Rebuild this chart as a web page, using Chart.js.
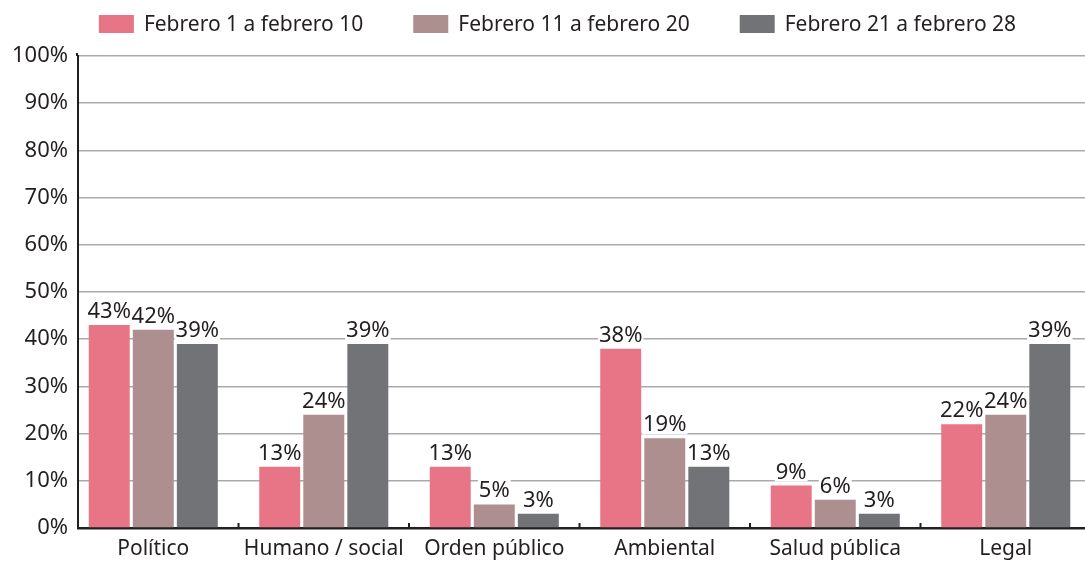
<!DOCTYPE html>
<html>
<head>
<meta charset="utf-8">
<script src="https://cdn.jsdelivr.net/npm/chart.js@4"></script>
<style>
  html, body { margin: 0; padding: 0; background: #fff; }
  #wrap { width: 1085px; height: 564px; }
</style>
</head>
<body>
<div id="wrap"><canvas id="riskChart"></canvas></div>
<script>
// categories and series
const categories = ['Político', 'Humano / social', 'Orden público', 'Ambiental', 'Salud pública', 'Legal'];
const seriesNames = ['Febrero 1 a febrero 10', 'Febrero 11 a febrero 20', 'Febrero 21 a febrero 28'];
const period1 = [43, 13, 13, 38, 9, 22];
const period2 = [42, 24, 5, 19, 6, 24];
const period3 = [39, 39, 3, 13, 3, 39];
const yTicks = [0, 10, 20, 30, 40, 50, 60, 70, 80, 90, 100];

const colors = ['#e87585', '#ad8f8f', '#727376'];
const fontFamily = '"Noto Sans", "Open Sans", sans-serif';
const textColor = '#231f20';

// in the original the category bands run a little past the y axis on the left
// and past the canvas edge on the right
const bandOverhangLeft = 10;
const bandOverhangRight = 6;

const stretchBands = {
    id: 'stretchBands',
    afterLayout(chart) {
        const x = chart.scales.x;
        x._startPixel = x.left - bandOverhangLeft;
        x._endPixel = x.right + bandOverhangRight;
        x._length = x._endPixel - x._startPixel;
    }
};

// value labels with a white box behind them (hides the gridlines)
const valueLabels = {
    id: 'valueLabels',
    afterDatasetsDraw(chart) {
        const ctx = chart.ctx;
        ctx.save();
        ctx.font = '22px ' + fontFamily;
        ctx.textAlign = 'center';
        ctx.textBaseline = 'alphabetic';
        chart.data.datasets.forEach((ds, i) => {
            chart.getDatasetMeta(i).data.forEach((bar, j) => {
                const txt = ds.data[j] + '%';
                const w = ctx.measureText(txt).width;
                const base = bar.y - 7;
                ctx.fillStyle = '#fff';
                ctx.fillRect(bar.x - w / 2 - 1, base - 18, w + 2, 21);
                ctx.fillStyle = textColor;
                ctx.fillText(txt, bar.x, base);
            });
        });
        ctx.restore();
    }
};

// short tick marks between categories pointing up, and the y axis poking above 100%
const axisMarks = {
    id: 'axisMarks',
    afterDraw(chart) {
        const x = chart.scales.x;
        const y = chart.scales.y;
        const ctx = chart.ctx;
        ctx.save();
        ctx.strokeStyle = textColor;
        ctx.lineWidth = 2;
        for (let i = 1; i < categories.length; i++) {
            const px = (x.getPixelForValue(i - 1) + x.getPixelForValue(i)) / 2;
            ctx.beginPath();
            ctx.moveTo(px, x.top);
            ctx.lineTo(px, x.top - 5);
            ctx.stroke();
        }
        ctx.beginPath();
        ctx.moveTo(y.right - 1, y.top);
        ctx.lineTo(y.right - 1, y.top - 3);
        ctx.stroke();
        ctx.restore();
    }
};

// legend drawn by hand so the spacing can match the original
const topLegend = {
    id: 'topLegend',
    afterDraw(chart) {
        const ctx = chart.ctx;
        ctx.save();
        ctx.font = '21px ' + fontFamily;
        ctx.textBaseline = 'middle';
        const boxW = 35, boxH = 18, gap = 10, itemGap = 50;
        const items = chart.data.datasets.map(ds => ({
            text: ds.label, color: ds.backgroundColor, w: ctx.measureText(ds.label).width
        }));
        const total = items.reduce((s, it) => s + boxW + gap + it.w, 0) + itemGap * (items.length - 1);
        let x = chart.width / 2 + 15 - total / 2;
        const y = 24;
        items.forEach(it => {
            ctx.fillStyle = it.color;
            ctx.fillRect(x, y - boxH / 2, boxW, boxH);
            ctx.fillStyle = textColor;
            ctx.fillText(it.text, x + boxW + gap, y + 1);
            x += boxW + gap + it.w + itemGap;
        });
        ctx.restore();
    }
};

const ctx = document.getElementById('riskChart').getContext('2d');

new Chart(ctx, {
    type: 'bar',
    data: {
        labels: categories,
        datasets: [
            { label: seriesNames[0], data: period1, backgroundColor: colors[0] },
            { label: seriesNames[1], data: period2, backgroundColor: colors[1] },
            { label: seriesNames[2], data: period3, backgroundColor: colors[2] }
        ]
    },
    options: {
        responsive: true,
        maintainAspectRatio: false,
        animation: false,
        datasets: {
            bar: { categoryPercentage: 0.775, barPercentage: 0.93 }
        },
        layout: { padding: { left: 2, right: 0, top: 56, bottom: 0 } },
        plugins: {
            tooltip: { enabled: false },
            legend: { display: false }
        },
        scales: {
            x: {
                grid: { display: false, drawTicks: false },
                border: { color: textColor, width: 2.5 },
                afterFit(scale) { scale.height = 36; },
                ticks: {
                    color: textColor,
                    padding: 8,
                    font: { family: fontFamily, size: 21 }
                }
            },
            y: {
                min: 0,
                max: 100,
                afterBuildTicks(axis) {
                    axis.ticks = yTicks.map(v => ({ value: v }));
                },
                grid: { color: '#aaaaaa', lineWidth: 1.5, drawTicks: false },
                border: { color: textColor, width: 2 },
                ticks: {
                    color: textColor,
                    padding: 10,
                    font: { family: fontFamily, size: 22 },
                    callback: v => v + '%'
                }
            }
        }
    },
    plugins: [stretchBands, valueLabels, axisMarks, topLegend]
});
</script>
</body>
</html>
